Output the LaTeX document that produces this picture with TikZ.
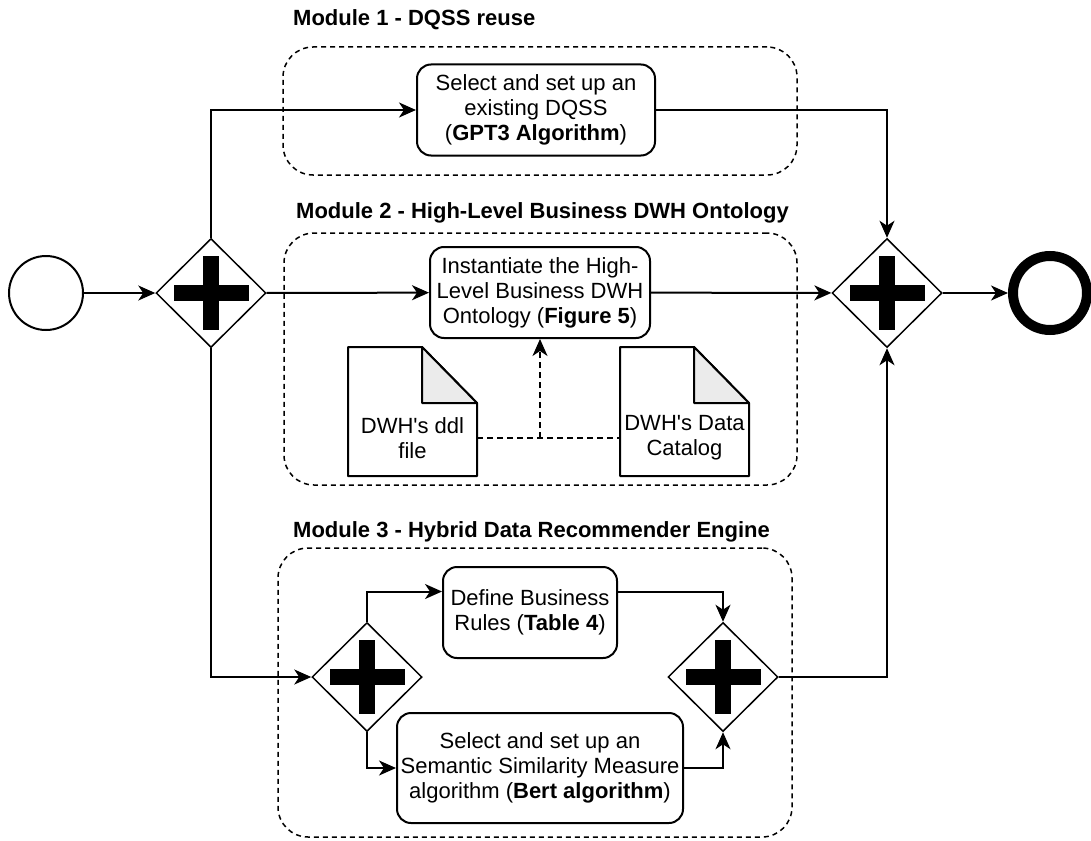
\documentclass[tikz,border=0pt]{standalone}
\usepackage{fontspec}
\setmainfont{Liberation Sans}
\usepackage{tikz}
\usetikzlibrary{shapes.geometric,arrows.meta}
\tikzstyle{module}=[draw, line width=1.5pt, dash pattern=on 5pt off 4pt, rounded corners=30pt, inner sep=0pt]
\tikzstyle{modtitle}=[anchor=west, inner sep=0pt, font=\fontsize{22}{25}\selectfont\bfseries]
\tikzstyle{task}=[draw, line width=2pt, rounded corners=14pt, align=center, inner sep=0pt, fill=white]
\tikzstyle{docnode}=[minimum width=129pt, inner sep=0pt, align=center]
\tikzstyle{event}=[circle, draw, line width=2pt, minimum size=74pt, inner sep=0pt, fill=white]
\tikzstyle{endevent}=[event, line width=10pt]
\tikzstyle{gateway}=[diamond, draw, line width=1.5pt, minimum width=110pt, minimum height=109pt,
  inner sep=0pt, fill=white,
  path picture={
    \fill[black] ([xshift=-37.5pt,yshift=-8pt]path picture bounding box.center) rectangle
          ([xshift=37.5pt,yshift=8pt]path picture bounding box.center);
    \fill[black] ([xshift=-8pt,yshift=-37pt]path picture bounding box.center) rectangle
          ([xshift=8pt,yshift=37pt]path picture bounding box.center);}]
\tikzstyle{flow}=[line width=2pt, -{Stealth[length=17pt,width=15pt,inset=5pt]}]
\tikzstyle{assoc}=[flow, dash pattern=on 6pt off 4pt]
\newcommand{\gateway}{\node[gateway]}
\newcommand{\docframe}[1]{%
  \draw[line width=2pt, line join=round] ([shift={(-64.5,-91)}]#1.center) -- ([shift={(9.5,-91)}]#1.center)
    -- ([shift={(64.5,-35)}]#1.center) -- ([shift={(64.5,38)}]#1.center)
    -- ([shift={(-64.5,38)}]#1.center) -- cycle;
  \filldraw[line width=2pt, line join=round, fill=black!8] ([shift={(9.5,-91)}]#1.center)
    -- ([shift={(9.5,-35)}]#1.center) -- ([shift={(64.5,-35)}]#1.center) -- cycle;}

\begin{document}
\begin{tikzpicture}[x=1pt, y=-1pt, font=\fontsize{22}{25}\selectfont]
    \useasboundingbox (0,0) rectangle (1091,840);
    % modules
    \node[module, minimum width=514pt, minimum height=128pt] (m1) at (540,111) {};
    \node[module, minimum width=513pt, minimum height=252pt] (m2) at (540.5,359) {};
    \node[module, minimum width=514pt, minimum height=289pt] (m3) at (535,692.5) {};
    \node[modtitle] (m1title) at (293,20) {Module 1 - DQSS reuse};
    \node[modtitle] (m2title) at (296,213) {Module 2 - High-Level Business DWH Ontology};
    \node[modtitle] (m3title) at (293,532) {Module 3 - Hybrid Data Recommender Engine};

    % events and gateways
    \node[event] (start) at (46,293) {};
    \node[endevent] (stop) at (1050,293) {};
    \gateway (g1) at (211,293) {};
    \gateway (g2) at (887,293) {};
    \gateway (g3) at (367,677) {};
    \gateway (g4) at (723,677) {};

    % tasks
    \node[task, minimum width=238pt, minimum height=91pt] (t1) at (536,110)
        {Select and set up an\\existing DQSS\\(\textbf{GPT3 Algorithm})};
    \node[task, minimum width=220pt, minimum height=91pt] (t2) at (540,292.5)
        {Instantiate the High-\\Level Business DWH\\Ontology (\textbf{Figure 5})};
    \node[task, minimum width=174pt, minimum height=91pt] (t3) at (530,612.5)
        {Define Business\\Rules (\textbf{Table 4})};
    \node[task, minimum width=286pt, minimum height=110pt] (t4) at (540,768)
        {Select and set up an\\Semantic Similarity Measure\\algorithm (\textbf{Bert algorithm})};

    % data objects
    \node[docnode] (ddl) at (412.5,438) {DWH\textquotesingle s ddl\\file};
    \node[docnode] (cat) at (684.5,438) {DWH\textquotesingle s Data\\Catalog};
    \docframe{ddl}
    \docframe{cat}

    % sequence flows
    \draw[flow] (start) -- (g1);
    \draw[flow] (g1.north) |- (t1);
    \draw[flow] (g1) -- (t2);
    \draw[flow] (g1.south) |- (g3);
    \draw[flow] (t1) -| (g2.north);
    \draw[flow] (t2) -- (g2);
    \draw[flow] (g2) -- (stop);
    \draw[flow] (g3.north) |- ([yshift=21pt]t3.west);
    \draw[flow] (g3.south) |- (t4);
    \draw[flow] ([yshift=21pt]t3.east) -| (g4.north);
    \draw[flow] (t4) -| (g4.south);
    \draw[flow] (g4) -| (g2.south);

    % data associations
    \coordinate (join) at (t2.south |- ddl.east);
    \draw[assoc, -] (ddl.east) -- (cat.west);
    \draw[assoc] (join) -- (t2.south);
\end{tikzpicture}
\end{document}
